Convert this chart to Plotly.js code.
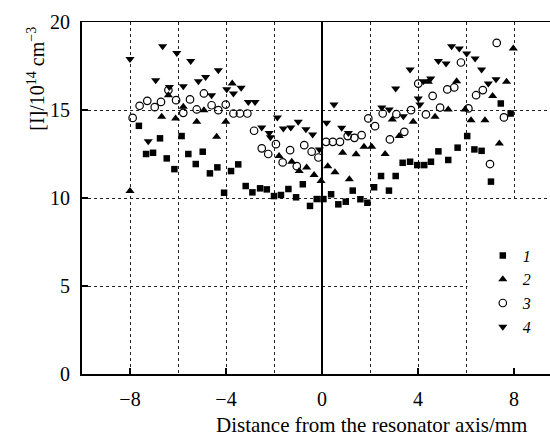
<!DOCTYPE html>
<html>
<head>
<meta charset="utf-8">
<script src="https://cdn.plot.ly/plotly-3.0.1.min.js"></script>
<style>html,body{margin:0;padding:0;overflow:hidden;background:#fff;}#chart{width:600px;height:445px;}</style>
</head>
<body>
<div id="chart"></div>
<script>
// Series 1 (squares)
const x1 = [-7.63,-7.33,-7.04,-6.75,-6.47,-6.15,-5.85,-5.57,-5.26,-4.97,-4.67,-4.36,-4.08,-3.79,-3.49,-3.18,-2.90,-2.58,-2.30,-2.00,-1.71,-1.40,-1.08,-0.80,-0.50,-0.22,0.06,0.38,0.68,0.99,1.28,1.60,1.89,2.17,2.46,2.79,3.07,3.36,3.67,3.97,4.26,4.54,4.85,5.26,5.65,6.05,6.35,6.65,7.04,7.45,7.86];
const y1 = [14.1,12.5,12.57,13.39,12.25,11.64,13.52,12.5,11.93,12.63,11.4,11.74,10.3,11.53,11.91,10.68,10.32,10.55,10.49,10.11,10.17,10.51,10.04,10.78,9.55,9.94,9.94,10.21,9.64,9.79,10.42,9.93,9.73,10.61,11.25,10.42,11.25,12.0,12.06,11.87,11.87,12.06,12.65,12.16,12.86,13.52,12.76,12.68,10.93,15.37,14.8];
// Series 2 (triangles up)
const x2 = [-8.0,-6.68,-6.40,-6.10,-5.78,-5.22,-4.92,-4.39,-4.01,-3.74,-1.79,-1.26,-0.95,-0.64,-0.33,-0.04,0.24,0.54,0.86,1.14,1.42,1.75,2.07,2.63,2.93,3.22,3.80,4.43,4.71,5.26,5.61,5.96,6.21,6.79,7.11,7.39,7.69,7.97];
const y2 = [10.4,14.61,15.84,14.52,15.18,14.33,14.99,13.48,14.33,16.5,12.38,12.06,11.53,11.74,11.3,10.96,11.81,11.46,12.57,11.06,12.48,12.91,12.91,12.5,14.46,13.52,14.33,16.6,14.61,15.03,16.64,15.03,14.42,14.42,15.79,13.1,16.6,18.49];
// Series 3 (open circles)
const x3 = [-7.89,-7.60,-7.28,-6.97,-6.71,-6.40,-6.08,-5.78,-5.50,-5.22,-4.92,-4.60,-4.32,-4.01,-3.69,-3.42,-3.11,-2.83,-2.51,-2.24,-1.92,-1.64,-1.33,-1.05,-0.74,-0.43,-0.15,0.17,0.45,0.75,1.07,1.35,1.65,1.93,2.21,2.53,2.83,3.10,3.43,3.71,4.01,4.33,4.61,4.92,5.22,5.51,5.79,6.10,6.42,6.70,7.00,7.28,7.58];
const y3 = [14.55,15.24,15.52,15.16,15.46,16.13,15.56,14.84,15.6,15.03,15.94,15.27,14.99,15.31,14.8,14.8,14.8,13.82,12.82,12.5,13.06,12.02,12.72,11.81,13.0,12.63,12.3,13.19,13.19,13.19,13.52,13.42,13.57,14.52,14.08,14.8,13.33,14.76,13.76,14.99,16.5,14.75,15.8,15.14,16.17,16.28,17.7,15.09,15.84,16.13,11.93,18.81,14.58];
// Series 4 (triangles down)
const x4 = [-8.0,-7.24,-6.93,-6.64,-6.36,-6.05,-5.78,-5.47,-5.15,-4.85,-4.60,-4.32,-3.97,-3.69,-3.37,-3.07,-2.79,-2.51,-2.20,-2.15,-1.86,-1.61,-1.30,-0.99,-0.67,-0.39,-0.11,0.19,0.50,0.82,1.10,2.49,2.80,3.07,3.39,3.67,4.01,4.08,4.22,4.53,4.85,5.17,5.40,5.72,6.03,6.38,6.65,6.93,7.25];
const y4 = [17.9,13.23,16.69,18.62,16.31,18.24,16.35,17.79,16.64,16.88,15.84,17.26,16.18,15.94,16.26,15.46,15.46,14.01,13.7,13.45,14.58,13.95,14.01,14.33,13.9,13.61,12.76,14.27,15.31,13.99,13.7,15.14,15.03,16.22,14.65,17.3,15.65,15.31,16.64,16.79,17.79,17.64,18.62,18.49,18.21,17.92,17.3,16.5,16.75];

const names = ['<i>1</i>','<i>2</i>','<i>3</i>','<i>4</i>'];
const xTicks = [-8,-4,0,4,8];
const yTicks = [0,5,10,15,20];

const serif = '"Liberation Serif", "Times New Roman", Times, serif';
const mk = (sym, size, open) => open
  ? {symbol: sym, size: size, color: 'rgba(0,0,0,0)', line: {color: '#000', width: 1.2}}
  : {symbol: sym, size: size, color: '#000', line: {width: 0}};

const data = [
  {x: x1, y: y1, name: names[0], type: 'scatter', mode: 'markers', marker: mk('square', 6.5, false)},
  {x: x2, y: y2, name: names[1], type: 'scatter', mode: 'markers', marker: mk('triangle-up', 8, false)},
  {x: x3, y: y3, name: names[2], type: 'scatter', mode: 'markers', marker: mk('circle', 7.5, true)},
  {x: x4, y: y4, name: names[3], type: 'scatter', mode: 'markers', marker: mk('triangle-down', 8, false)}
];

const layout = {
  width: 600, height: 445,
  margin: {l: 82, r: 38, t: 22, b: 71},
  paper_bgcolor: '#fff', plot_bgcolor: '#fff',
  font: {family: serif, size: 20, color: '#000'},
  showlegend: true,
  legend: {x: 0.835, xanchor: 'left', y: 0.385, yanchor: 'top', bgcolor: 'rgba(0,0,0,0)',
           font: {family: serif, size: 16}, tracegroupgap: 0, itemsizing: 'trace'},
  xaxis: {
    range: [-10, 10], tickvals: xTicks, ticks: 'inside', ticklen: 6, tickwidth: 1.5, tickcolor: '#000',
    showline: true, linecolor: '#000', linewidth: 1.5, mirror: true,
    showgrid: true, gridcolor: '#222', gridwidth: 1, griddash: 'dot',
    zeroline: true, zerolinecolor: '#000', zerolinewidth: 2,
    minor: {dtick: 2, tick0: 0, showgrid: true, gridcolor: '#222', gridwidth: 1, griddash: 'dot', ticks: ''},
    ticklabelstandoff: 6, tickfont: {family: serif, size: 20}, fixedrange: true
  },
  yaxis: {
    range: [0, 20], tickvals: yTicks, ticks: 'inside', ticklen: 6, tickwidth: 1.5, tickcolor: '#000',
    showline: true, linecolor: '#000', linewidth: 2, mirror: false,
    showgrid: true, gridcolor: '#222', gridwidth: 1, griddash: 'dot',
    zeroline: false, ticklabelstandoff: 6, tickfont: {family: serif, size: 20}, fixedrange: true
  },
  shapes: [
    {type: 'rect', xref: 'x', yref: 'y', x0: 6.06, x1: 10, y0: 0.05, y1: 9.95,
     fillcolor: '#fff', line: {width: 0}, layer: 'between'}
  ],
  annotations: [
    {text: 'Distance from the resonator axis/mm', xref: 'paper', yref: 'paper', x: 0.604, y: -0.145,
     xanchor: 'center', yanchor: 'middle', showarrow: false, font: {family: serif, size: 21}},
    {text: '[I]/10<sup>14</sup> cm<sup>\u22123</sup>', xref: 'paper', yref: 'paper', x: -0.095, y: 0.84,
     xanchor: 'center', yanchor: 'middle', textangle: -90, showarrow: false, font: {family: serif, size: 20}}
  ]
};

Plotly.newPlot('chart', data, layout, {displayModeBar: false, staticPlot: true});
</script>
</body>
</html>
